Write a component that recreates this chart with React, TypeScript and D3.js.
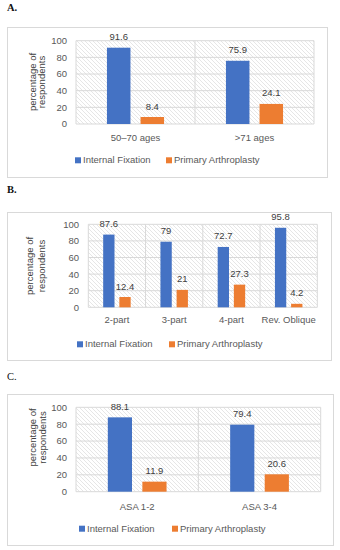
import React from "react";
import * as d3 from "d3";

const seriesNames = ["Internal Fixation", "Primary Arthroplasty"];
const seriesColors = ["#4472C4", "#ED7D31"];
const yTicks = [0, 20, 40, 60, 80, 100];

const catsA = ["50–70 ages", ">71 ages"];
const fixA = [91.6, 75.9];
const arthA = [8.4, 24.1];

const catsB = ["2-part", "3-part", "4-part", "Rev. Oblique"];
const fixB = [87.6, 79, 72.7, 95.8];
const arthB = [12.4, 21, 27.3, 4.2];

const catsC = ["ASA 1-2", "ASA 3-4"];
const fixC = [88.1, 79.4];
const arthC = [11.9, 20.6];

const FONT = "'Liberation Sans', Arial, sans-serif";

type PanelProps = {
  id: string;
  label: string;
  labelBold: boolean;
  labelY: number;
  box: [number, number, number, number];
  plot: { x0: number; x1: number; yTop: number; yBot: number };
  tickX: number;
  titleX: [number, number];
  titleCY: number;
  xLabelY: number;
  legendY: number;
  legendX: [number, number];
  cats: string[];
  series: number[][];
};

function Panel(p: PanelProps) {
  const x0 = d3.scaleBand<string>().domain(p.cats).range([p.plot.x0, p.plot.x1]).padding(0);
  const bw = x0.bandwidth();
  const x1 = d3
    .scaleBand<number>()
    .domain(p.series.map((_, i) => i))
    .range([bw * 0.26, bw * 0.74])
    .paddingInner(0.3)
    .paddingOuter(0);
  const y = d3.scaleLinear().domain([0, 100]).range([p.plot.yBot, p.plot.yTop]);
  const [bx, by, bwid, bh] = p.box;
  const boundaries = [...p.cats.map((c) => x0(c) as number), p.plot.x1];
  return (
    <g>
      <text x={7} y={p.labelY} fontFamily="'Liberation Serif', 'Times New Roman', serif" fontSize={10.5} fontWeight={p.labelBold ? "bold" : "normal"} fill="#111">
        {p.label}
      </text>
      <rect x={bx + 0.5} y={by + 0.5} width={bwid} height={bh} fill="#fff" stroke="#d9d9d9" strokeWidth={1} />
      <rect
        x={p.plot.x0}
        y={p.plot.yTop}
        width={p.plot.x1 - p.plot.x0}
        height={p.plot.yBot - p.plot.yTop}
        fill={`url(#hatch)`}
      />
      {yTicks.map((t) => (
        <line key={"g" + t} x1={p.plot.x0} x2={p.plot.x1} y1={y(t)} y2={y(t)} stroke="#d9d9d9" strokeWidth={1} />
      ))}
      {boundaries.map((bxv, i) => (
        <line key={"v" + i} x1={bxv} x2={bxv} y1={p.plot.yTop} y2={p.plot.yBot} stroke="#d9d9d9" strokeWidth={1} />
      ))}
      {yTicks.map((t) => (
        <text key={"t" + t} x={p.tickX} y={y(t) + 3.4} textAnchor="end" fontFamily={FONT} fontSize={9.5} fill="#595959">
          {t}
        </text>
      ))}
      <g transform={`translate(${p.titleX[0]},${p.titleCY}) rotate(-90)`}>
        <text x={0} y={3.4} textAnchor="middle" fontFamily={FONT} fontSize={9.5} fill="#404040">
          percentage of
        </text>
      </g>
      <g transform={`translate(${p.titleX[1]},${p.titleCY}) rotate(-90)`}>
        <text x={0} y={3.4} textAnchor="middle" fontFamily={FONT} fontSize={9.5} fill="#404040">
          respondents
        </text>
      </g>
      {p.cats.map((c, ci) => (
        <g key={c} transform={`translate(${x0(c)},0)`}>
          {p.series.map((s, si) => (
            <g key={si}>
              <rect
                x={x1(si)}
                y={y(s[ci])}
                width={x1.bandwidth()}
                height={y(0) - y(s[ci])}
                fill={seriesColors[si]}
              />
              <text
                x={(x1(si) as number) + x1.bandwidth() / 2}
                y={y(s[ci]) - 7.5}
                textAnchor="middle"
                fontFamily={FONT}
                fontSize={9.5}
                fill="#404040"
              >
                {s[ci]}
              </text>
            </g>
          ))}
          <text x={bw / 2} y={p.xLabelY} textAnchor="middle" fontFamily={FONT} fontSize={9.5} fill="#595959">
            {c}
          </text>
        </g>
      ))}
      {seriesNames.map((n, i) => (
        <g key={n}>
          <rect x={p.legendX[i]} y={p.legendY - 6} width={6} height={6} fill={seriesColors[i]} />
          <text x={p.legendX[i] + 8} y={p.legendY} fontFamily={FONT} fontSize={9.5} fill="#595959">
            {n}
          </text>
        </g>
      ))}
    </g>
  );
}

export default function App() {
  return (
    <svg width={340} height={550} style={{ position: "absolute", left: 0, top: 0, background: "#fff" }}>
      <defs>
        <pattern id="hatch" patternUnits="userSpaceOnUse" width={4} height={4}>
          <rect width={4} height={4} fill="#fff" />
          <path d="M-1,-1 l6,6 M-1,3 l2,2 M3,-1 l2,2" stroke="#e6e6e6" strokeWidth={1} />
        </pattern>
      </defs>
      <Panel
        id="A"
        label="A."
        labelBold={true}
        labelY={11}
        box={[7, 27, 320, 150]}
        plot={{ x0: 76, x1: 314, yTop: 40.7, yBot: 124 }}
        tickX={67}
        titleX={[33, 42]}
        titleCY={82}
        xLabelY={140.5}
        legendY={163.3}
        legendX={[75, 166]}
        cats={catsA}
        series={[fixA, arthA]}
      />
      <Panel
        id="B"
        label="B."
        labelBold={true}
        labelY={193}
        box={[7, 212, 324, 148]}
        plot={{ x0: 88.3, x1: 317.3, yTop: 224.3, yBot: 307.3 }}
        tickX={79}
        titleX={[30, 42]}
        titleCY={266}
        xLabelY={323.3}
        legendY={347.3}
        legendX={[77, 169]}
        cats={catsB}
        series={[fixB, arthB]}
      />
      <Panel
        id="C"
        label="C."
        labelBold={false}
        labelY={380}
        box={[7, 394, 326, 151]}
        plot={{ x0: 76, x1: 320.7, yTop: 407.3, yBot: 491.7 }}
        tickX={67}
        titleX={[33, 42.5]}
        titleCY={437.5}
        xLabelY={510}
        legendY={531.7}
        legendX={[79, 172]}
        cats={catsC}
        series={[fixC, arthC]}
      />
    </svg>
  );
}
